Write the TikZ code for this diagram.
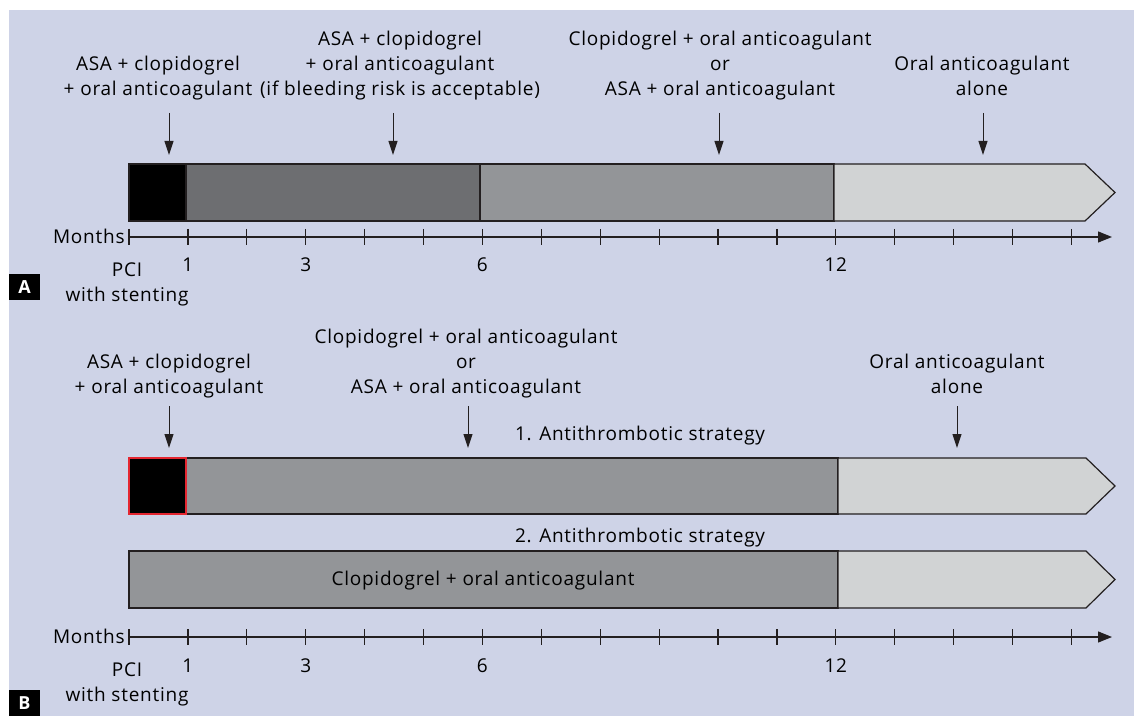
\documentclass[tikz,border=0pt]{standalone}
\usepackage{fontspec}
\setmainfont{Open Sans}[LetterSpace=4.0]
\usetikzlibrary{arrows.meta}
\definecolor{bgblue}{RGB}{206,211,231}
\definecolor{darkgr}{RGB}{109,110,113}
\definecolor{midgr}{RGB}{147,149,152}
\definecolor{lightgr}{RGB}{209,211,212}
\definecolor{edge}{RGB}{35,31,32}
\definecolor{redline}{RGB}{228,38,48}
\tikzset{
  lbl/.style={align=center, inner sep=0pt, text depth=0pt, anchor=south, font=\fontsize{9.5}{12.5}\selectfont},
  num/.style={inner sep=0pt, anchor=base, font=\fontsize{9.5}{12.5}\selectfont},
  pointer/.style={edge, line width=0.5pt, -{Triangle[length=7pt,width=4.5pt]}},
  seg/.style={draw=edge, line width=0.6pt},
  tick/.style={edge, line width=0.6pt},
  panel/.style={fill=black, text=white, inner sep=0pt, minimum width=15.5pt, minimum height=13pt, font=\fontsize{9}{10}\selectfont\bfseries}
}
\begin{document}
\begin{tikzpicture}[x=0.5pt,y=-0.5pt]
\useasboundingbox (0,0) rectangle (1134,716);
\fill[white] (0,0) rectangle (1134,716);
\fill[bgblue] (9,10) rectangle (1134,716);
% ---------------- panel A
\node[lbl] (tA1) at (158,96) {ASA + clopidogrel\\+ oral anticoagulant};
\node[lbl] (tA2) at (400,96) {ASA + clopidogrel\\+ oral anticoagulant\\(if bleeding risk is acceptable)};
\node[lbl] (tA3) at (720,96) {Clopidogrel + oral anticoagulant\\or\\ASA + oral anticoagulant};
\node[lbl] (tA4) at (982,96) {Oral anticoagulant\\alone};
\coordinate (pA1) at (169,155);
\coordinate (pA2) at (393,155);
\coordinate (pA3) at (719,155);
\coordinate (pA4) at (983,155);
\foreach \i in {1,...,4}
  \draw[pointer] (tA\i.south -| pA\i) ++(0,17) -- (pA\i);
\filldraw[seg, fill=black] (129,164) rectangle (186,221);
\filldraw[seg, fill=darkgr] (186,164) rectangle (480,221);
\filldraw[seg, fill=midgr] (480,164) rectangle (834,221);
\filldraw[seg, fill=lightgr] (834,164) -- (1085,164) -- (1115,192.5) -- (1085,221) -- (834,221) -- cycle;
\draw[tick, -{Triangle[length=7pt,width=5.5pt]}] (129,237) -- (1112,237);
\foreach \m in {0,...,16}
  \draw[tick] (129+58.9*\m,229) -- ++(0,16);
\node[num, anchor=base east] (monA) at (125,243.5) {Months};
\foreach \m in {1,3,6,12}
  \node[num] (nA\m) at (129+58.9*\m,272) {\m};
\node[lbl] (pciA) at (127,302) {PCI\\with stenting};
\node[panel] (labA) at (24.5,287) {A};
% ---------------- panel B
\node[lbl] (tB1) at (169,394) {ASA + clopidogrel\\+ oral anticoagulant};
\node[lbl] (tB2) at (466,394) {Clopidogrel + oral anticoagulant\\or\\ASA + oral anticoagulant};
\node[lbl] (tB3) at (957,394) {Oral anticoagulant\\alone};
\coordinate (pB1) at (169,448);
\coordinate (pB2) at (468,448);
\coordinate (pB3) at (957,448);
\foreach \i in {1,2,3}
  \draw[pointer] (tB\i.south -| pB\i) ++(0,12) -- (pB\i);
\node[lbl] (sB1) at (640,441) {1. Antithrombotic strategy};
\filldraw[seg, fill=midgr] (186,458) rectangle (838,514);
\filldraw[fill=black, draw=redline, line width=0.6pt] (129,458) rectangle (186,514);
\filldraw[seg, fill=lightgr] (838,458) -- (1086,458) -- (1115,486) -- (1086,514) -- (838,514) -- cycle;
\node[lbl] (sB2) at (640,543) {2. Antithrombotic strategy};
\filldraw[seg, fill=midgr] (129,551) rectangle (838,608);
\filldraw[seg, fill=lightgr] (838,551) -- (1086,551) -- (1115,579.5) -- (1086,608) -- (838,608) -- cycle;
\node[lbl] (cB2) at (483,586) {Clopidogrel + oral anticoagulant};
\draw[tick, -{Triangle[length=7pt,width=5.5pt]}] (129,637) -- (1112,637);
\foreach \m in {0,...,16}
  \draw[tick] (129+58.9*\m,629) -- ++(0,16);
\node[num, anchor=base east] (monB) at (125,643.5) {Months};
\foreach \m in {1,3,6,12}
  \node[num] (nB\m) at (129+58.9*\m,672) {\m};
\node[lbl] (pciB) at (127,702) {PCI\\with stenting};
\node[panel] (labB) at (24.5,703) {B};
\end{tikzpicture}
\end{document}
